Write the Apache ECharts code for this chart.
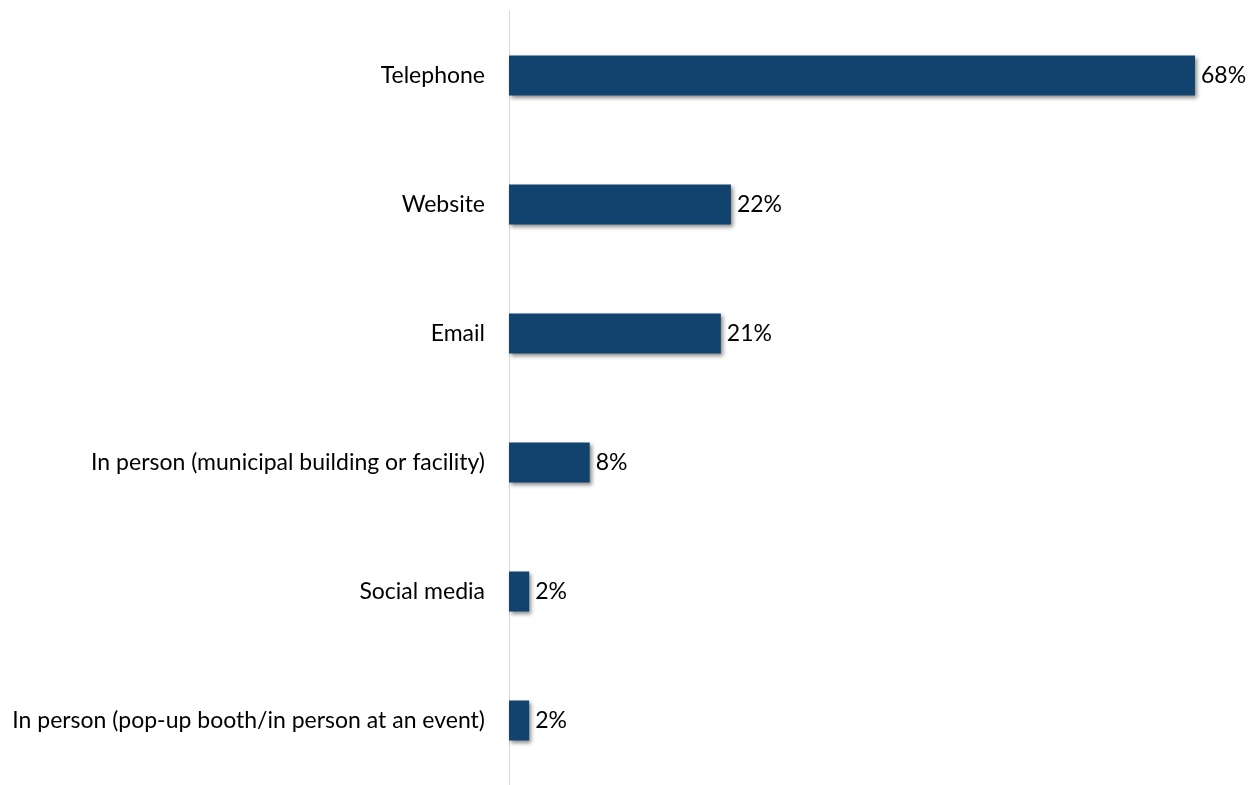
<!DOCTYPE html>
<html>
<head>
	<meta charset="UTF-8">
	<title></title>
	<script src="https://cdn.jsdelivr.net/npm/echarts@6/dist/echarts.min.js"></script>
	<style>html,body{margin:0;padding:0;background:#fff;}</style>
</head>
<body>
	<div id="main" style="width:1249px;height:785px;"></div>
	<script type="text/javascript">
		var categories = ['Telephone', 'Website', 'Email', 'In person (municipal building or facility)', 'Social media', 'In person (pop-up booth/in person at an event)'];
		var values = [68, 22, 21, 8, 2, 2];

		var myChart = echarts.init(document.getElementById('main'));
		myChart.setOption({
			backgroundColor: '#fff',
			animation: false,
			grid: { left: 509, right: 54, top: 11, height: 780 },
			xAxis: {
				type: 'value', min: 0, max: 68, show: false
			},
			yAxis: {
				type: 'category', data: categories, inverse: true,
				axisLine: { show: true, lineStyle: { color: '#d9d9d9', width: 1 } },
				axisTick: { show: false },
				axisLabel: { color: '#000', fontSize: 23, fontFamily: 'Lato', margin: 24 }
			},
			series: [{
				type: 'bar', data: values, barWidth: 40,
				itemStyle: {
					color: '#12436f',
					shadowColor: 'rgba(0,0,0,0.45)', shadowBlur: 4, shadowOffsetX: 2, shadowOffsetY: 2
				},
				label: {
					show: true, position: 'right', distance: 6, color: '#000', fontSize: 23, fontFamily: 'Lato',
					formatter: '{c}%'
				}
			}]
		});
	</script>
</body>
</html>
